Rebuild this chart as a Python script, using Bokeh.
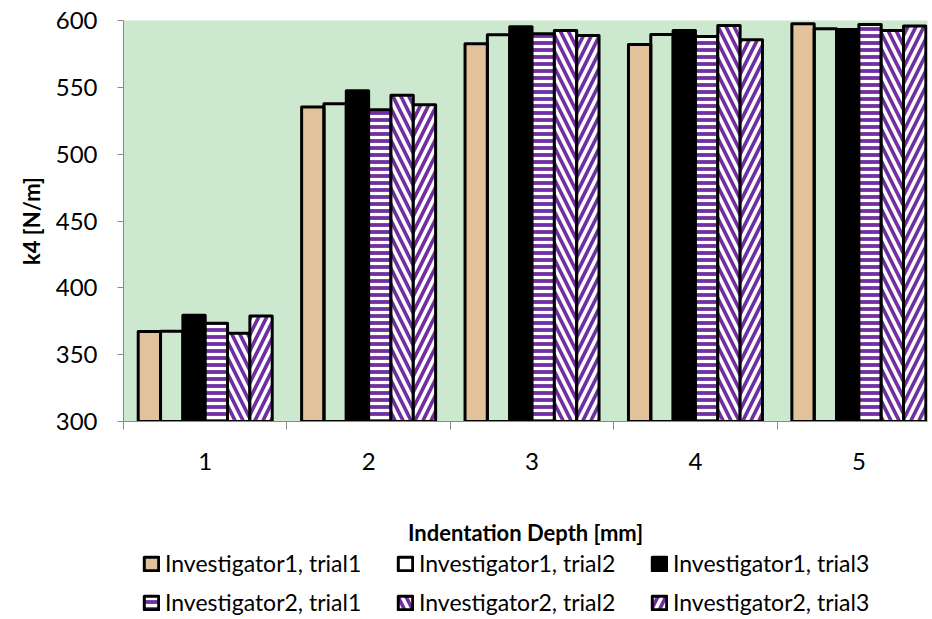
from bokeh.plotting import figure
from bokeh.models import (ColumnDataSource, Range1d, FixedTicker, Legend, LegendItem)
from bokeh.layouts import column
from bokeh.transform import dodge
from bokeh.embed import file_html
from bokeh.resources import INLINE

depth = [1, 2, 3, 4, 5]
depth_labels = ["1", "2", "3", "4", "5"]
inv1_trial1 = [367.4, 535.3, 582.6, 582.0, 597.5]
inv1_trial2 = [367.5, 537.8, 589.3, 589.6, 593.8]
inv1_trial3 = [379.5, 547.5, 595.3, 592.5, 593.3]
inv2_trial1 = [373.5, 533.3, 590.0, 588.0, 597.0]
inv2_trial2 = [366.0, 544.0, 592.5, 596.3, 592.5]
inv2_trial3 = [379.0, 537.0, 588.8, 585.6, 595.8]
series_names = ["Investigator1, trial1", "Investigator1, trial2", "Investigator1, trial3",
                "Investigator2, trial1", "Investigator2, trial2", "Investigator2, trial3"]
y_ticks = [300, 350, 400, 450, 500, 550, 600]

FONT = "Lato"
BG = "#CCE8CF"
TAN = "#E2C29A"
PURPLE = "#7030A0"
AX = "#888888"

src = ColumnDataSource(dict(x=depth, s0=inv1_trial1, s1=inv1_trial2, s2=inv1_trial3,
                            s3=inv2_trial1, s4=inv2_trial2, s5=inv2_trial3))

p = figure(width=932, height=548, output_backend="svg", toolbar_location=None,
           x_range=Range1d(0.5, 5.42), y_range=Range1d(300, 600),
           min_border_left=123, min_border_right=5, min_border_top=20, min_border_bottom=126)
p.background_fill_color = BG
p.border_fill_color = "white"
p.outline_line_color = None
p.xgrid.visible = False
p.ygrid.visible = False

styles = [
    dict(fill_color=TAN),
    dict(fill_color=None),
    dict(fill_color="black"),
    dict(fill_color=PURPLE, hatch_pattern="-", hatch_color="white", hatch_scale=7, hatch_weight=3.2),
    dict(fill_color=PURPLE, hatch_pattern="\\", hatch_color="white", hatch_scale=16, hatch_weight=3.5),
    dict(fill_color=PURPLE, hatch_pattern="/", hatch_color="white", hatch_scale=16, hatch_weight=3.5),
]

n = len(series_names)
w = 0.82 / n
for i, st in enumerate(styles):
    p.vbar(x=dodge("x", (i - (n - 1) / 2) * w), top="s%d" % i, bottom=300, width=w,
           source=src, line_color="black", line_width=3, line_join="round", **st)

# axes
p.yaxis.ticker = FixedTicker(ticks=y_ticks)
p.yaxis.axis_line_color = AX
p.yaxis.major_tick_line_color = AX
p.yaxis.major_tick_in = 0
p.yaxis.major_tick_out = 6
p.yaxis.minor_tick_line_color = None
p.yaxis.major_label_text_font = FONT
p.yaxis.major_label_text_font_size = "24px"
p.yaxis.major_label_text_color = "black"
p.yaxis.major_label_standoff = 20
p.yaxis.axis_label = "k4 [N/m]"
p.yaxis.axis_label_text_font = FONT
p.yaxis.axis_label_text_font_style = "bold"
p.yaxis.axis_label_text_font_size = "22px"
p.yaxis.axis_label_text_color = "black"
p.yaxis.axis_label_standoff = 8

p.xaxis.ticker = FixedTicker(ticks=depth, minor_ticks=[0.5, 1.5, 2.5, 3.5, 4.5, 5.5])
p.xaxis.major_label_overrides = {d: l for d, l in zip(depth, depth_labels)}
p.xaxis.axis_line_color = AX
p.xaxis.major_tick_line_color = None
p.xaxis.minor_tick_line_color = AX
p.xaxis.minor_tick_in = 0
p.xaxis.minor_tick_out = 8
p.xaxis.major_tick_out = 8
p.xaxis.major_label_text_font = FONT
p.xaxis.major_label_text_font_size = "24px"
p.xaxis.major_label_text_color = "black"
p.xaxis.major_label_standoff = 23
p.xaxis.axis_label = "Indentation Depth [mm]"
p.xaxis.axis_label_text_font = FONT
p.xaxis.axis_label_text_font_style = "bold"
p.xaxis.axis_label_text_font_size = "22px"
p.xaxis.axis_label_text_color = "black"
p.xaxis.axis_label_standoff = 46

# legend strip: a second figure whose frame lines up with the chart's frame;
# its renderers are hidden, only their legend swatches are drawn
lf = figure(width=932, height=71, output_backend="svg", toolbar_location=None,
            x_axis_type=None, y_axis_type=None, x_range=Range1d(0.5, 5.42), y_range=Range1d(300, 600),
            min_border_left=123, min_border_right=5, min_border_top=0, min_border_bottom=0)
lf.outline_line_color = None
lf.background_fill_color = "white"
lf.border_fill_color = "white"
lf.xgrid.visible = False
lf.ygrid.visible = False
items = []
for i, (name, st) in enumerate(zip(series_names, styles)):
    r = lf.vbar(x="x", top="s%d" % i, bottom=300, width=w, source=src,
                line_color="black", line_width=3, line_join="round", visible=False, **st)
    items.append(LegendItem(label=name, renderers=[r]))

legend = Legend(items=items, orientation="horizontal", ncols=3, location=(19, 3),
                glyph_width=18, glyph_height=17, label_standoff=5, label_width=220,
                label_text_font=FONT, label_text_font_size="23px", label_height=23,
                label_text_color="black", inactive_fill_alpha=0,
                spacing=11, padding=0, margin=0, border_line_color=None,
                background_fill_alpha=0)
lf.add_layout(legend, "center")

layout = column(p, lf, spacing=0)
open("out.html", "w").write(file_html(layout, INLINE))
